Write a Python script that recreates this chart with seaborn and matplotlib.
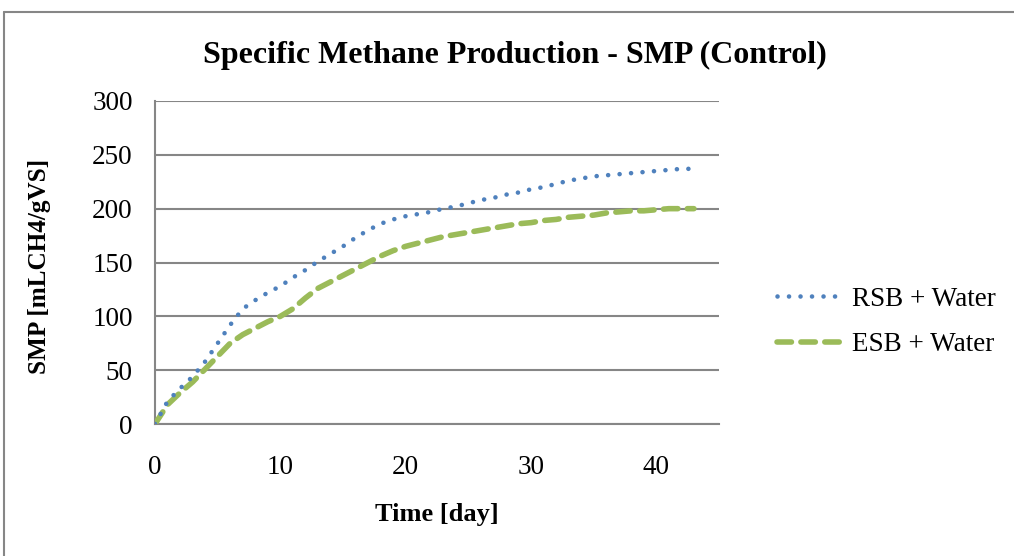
import numpy as np
import pandas as pd
import matplotlib
matplotlib.use("Agg")
import matplotlib.pyplot as plt
import seaborn as sns
from matplotlib.lines import Line2D

days = list(range(0, 44))
rsb_water = [0, 21, 33, 44, 58, 75, 92, 107, 115, 122, 128, 136, 143, 151, 158,
             165, 173, 180, 186, 190, 193, 195, 197, 200, 202, 205, 208, 210, 213,
             215, 218, 220, 223, 226, 228, 230, 231, 232, 233, 234, 235, 236, 237, 237]
esb_water = [0, 18, 29, 39, 51, 63, 75, 83, 89, 95, 100, 107, 117, 126, 132,
             138, 144, 150, 156, 161, 165, 168, 171, 174, 176, 178, 180, 182, 184,
             186, 187, 189, 190, 192, 193, 194, 196, 197, 198, 198, 199, 200, 200, 200]
series_names = ["RSB + Water", "ESB + Water"]
x_ticks = [0, 10, 20, 30, 40]
y_ticks = [0, 50, 100, 150, 200, 250, 300]

sns.set_theme(style="white")
plt.rcParams['font.family'] = ['Liberation Serif', 'DejaVu Serif']
plt.rcParams['text.color'] = 'black'

df = pd.DataFrame({
    "Time": days * 2,
    "SMP": rsb_water + esb_water,
    "Series": [series_names[0]] * len(days) + [series_names[1]] * len(days),
})

fig = plt.figure(figsize=(10.14, 5.56), dpi=100)
ax = fig.add_axes([155/1014, 1 - 424/556, (719-155)/1014, (424-101)/556])

blue = "#4F81BD"
green = "#9BBB59"
sns.lineplot(data=df, x="Time", y="SMP", hue="Series", palette=[blue, green],
             ax=ax, legend=False, estimator=None)

dot_style = (0, (0.01, 2.5))
dash_style = (0, (2.6, 1.7))
lines = ax.get_lines()
lines[0].set_linewidth(3.3)
lines[0].set_linestyle(dot_style)
lines[0].set_dash_capstyle('round')
lines[1].set_linewidth(4.0)
lines[1].set_linestyle(dash_style)
lines[1].set_dash_capstyle('round')
lines[1].set_zorder(3)
lines[0].set_zorder(4)

ax.set_xlim(0, 45)
ax.set_ylim(0, 300)
ax.set_xticks(x_ticks)
ax.set_yticks(y_ticks)
ax.tick_params(axis='both', labelsize=19.5, length=0, colors='black')
ax.tick_params(axis='x', pad=22)
ax.tick_params(axis='y', pad=16)
ax.grid(axis='y', color='#868686', linewidth=1.5)
ax.grid(axis='x', visible=False)
for s in ['top', 'right']:
    ax.spines[s].set_visible(False)
for s in ['left', 'bottom']:
    ax.spines[s].set_color('#868686')
    ax.spines[s].set_linewidth(1.5)
ax.set_xlabel("")
ax.set_ylabel("")

fig.text(437/1014, 1 - 514/556, "Time [day]", fontsize=19, fontweight='bold',
         ha='center', va='center', color='black')
fig.text(40/1014, 1 - 266/556, "SMP [mLCH4/gVS]", fontsize=18.2, fontweight='bold',
         ha='center', va='center', rotation=90, color='black')
fig.text(515/1014, 1 - 55/556, "Specific Methane Production - SMP (Control)",
         fontsize=23, fontweight='bold', ha='center', va='center', color='black')

handles = [
    Line2D([], [], color=blue, linewidth=3.3, linestyle=dot_style, dash_capstyle='round'),
    Line2D([], [], color=green, linewidth=4.0, linestyle=dash_style, dash_capstyle='round'),
]
leg = fig.legend(handles, series_names, loc='center left',
                 bbox_to_anchor=(753/1014, 1 - 322/556), frameon=False,
                 fontsize=19.5, handlelength=2.4, handletextpad=0.35, labelspacing=0.75)
for t in leg.get_texts():
    t.set_color('black')

# outer chart frame
fig.add_artist(Line2D([4/1014, 4/1014], [0, 1 - 12/556], transform=fig.transFigure,
                      color='#868686', linewidth=1.5))
fig.add_artist(Line2D([4/1014, 1], [1 - 12/556, 1 - 12/556], transform=fig.transFigure,
                      color='#868686', linewidth=1.5))

fig.savefig("out.png", dpi=100)
